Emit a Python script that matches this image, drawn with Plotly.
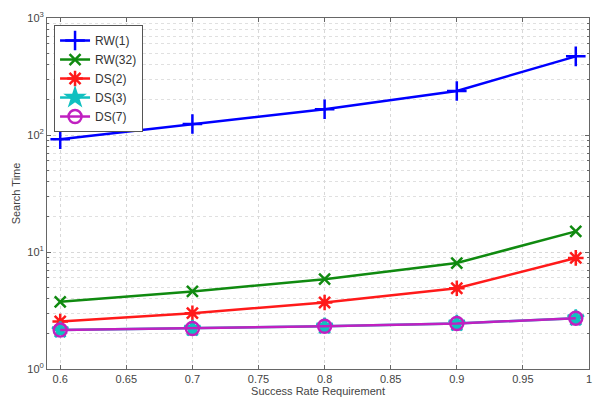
import plotly.graph_objects as go

x_vals = [0.6, 0.7, 0.8, 0.9, 0.99]
rw1 = [92, 124, 166, 238, 470]
rw32 = [3.75, 4.6, 5.85, 8.05, 15.0]
ds2 = [2.55, 3.0, 3.7, 4.9, 8.9]
ds3 = [2.15, 2.22, 2.32, 2.45, 2.72]
ds7 = [2.15, 2.22, 2.32, 2.45, 2.72]

series = [
    ("RW(1)", rw1, "#0000ff", "cross-thin-open", 14),
    ("RW(32)", rw32, "#108a10", "x-thin-open", 11),
    ("DS(2)", ds2, "#ff1a1a", "asterisk-open", 13),
    ("DS(3)", ds3, "#10c0c0", "star", 12),
    ("DS(7)", ds7, "#c020c0", "circle-open", 13),
]

fig = go.Figure()
for name, ys, col, sym, sz in series:
    fig.add_trace(go.Scatter(
        x=x_vals, y=ys, name=name, mode="lines+markers",
        line=dict(color=col, width=2.5),
        marker=dict(symbol=sym, size=sz, color=col, line=dict(color=col, width=2.5)),
    ))

tick_font = dict(family="Liberation Sans, Arial, sans-serif", size=11, color="#444")

fig.update_layout(
    width=599, height=403,
    margin=dict(l=47, r=7, t=18, b=34),
    paper_bgcolor="white", plot_bgcolor="white",
    showlegend=True,
    legend=dict(x=0.013, y=0.98, xanchor="left", yanchor="top",
                bgcolor="white", bordercolor="#555", borderwidth=1,
                font=dict(family="Liberation Sans, Arial, sans-serif", size=12, color="#333"),
                itemwidth=30, tracegroupgap=0),
    font=tick_font,
)
fig.update_xaxes(
    range=[0.59, 1.0], tickvals=[0.6, 0.65, 0.7, 0.75, 0.8, 0.85, 0.9, 0.95, 1.0],
    ticktext=["0.6", "0.65", "0.7", "0.75", "0.8", "0.85", "0.9", "0.95", "1"],
    showgrid=True, gridcolor="#d8d8d8", griddash="dot", gridwidth=1,
    showline=True, linecolor="#666", mirror="ticks", ticks="inside", ticklen=4,
    tickcolor="#666", zeroline=False,
    title=dict(text="Success Rate Requirement", font=dict(size=11, color="#444"), standoff=2),
    tickfont=tick_font,
)
fig.update_yaxes(
    type="log", range=[0, 3],
    tickvals=[1, 10, 100, 1000],
    ticktext=["10<sup>0</sup>", "10<sup>1</sup>", "10<sup>2</sup>", "10<sup>3</sup>"],
    showgrid=True, gridcolor="#d8d8d8", griddash="dot", gridwidth=1,
    minor=dict(tickvals=[v * d for d in [1, 10, 100] for v in range(2, 10)],
               showgrid=True, gridcolor="#e0e0e0", griddash="dot", ticks="inside",
               ticklen=2, tickcolor="#666"),
    showline=True, linecolor="#666", mirror="ticks", ticks="inside", ticklen=4,
    tickcolor="#666", zeroline=False,
    title=dict(text="Search Time", font=dict(size=11, color="#444"), standoff=4),
    tickfont=tick_font,
)
fig.write_html("out.html")
